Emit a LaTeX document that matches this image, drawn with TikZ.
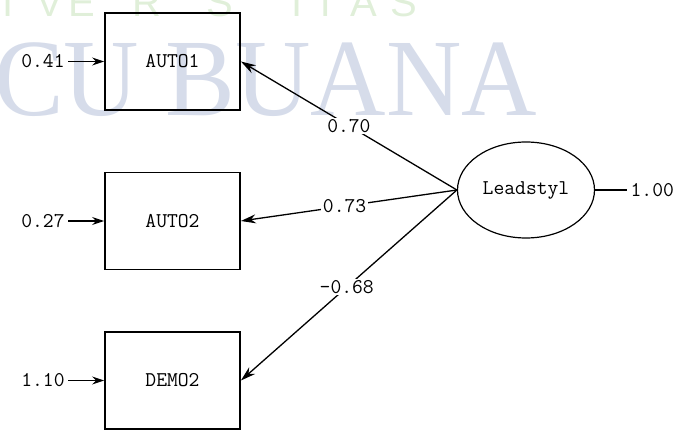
\documentclass[tikz,border=0pt]{standalone}
\usepackage{fontspec}
\newfontfamily\wmserif{Liberation Serif}
\newfontfamily\wmsans{Liberation Sans}
\usetikzlibrary{shapes,positioning,arrows.meta}
\definecolor{wmblue}{RGB}{214,220,234}
\definecolor{wmgreen}{RGB}{224,239,217}
\tikzstyle{obs} = [rectangle,draw,line width=1.8pt,minimum width=135pt,minimum height=97pt]
\tikzstyle{lat} = [ellipse,draw,line width=1.2pt,minimum width=137pt,minimum height=96pt]

\begin{document}
\begin{tikzpicture}
		[
		x=1pt,y=1pt,
		font=\fontsize{21}{25}\selectfont\ttfamily,
		node distance=159.5pt,
		path/.style={-{Stealth[length=15pt,width=9pt]},line width=1.3pt},
		err/.style={-{Stealth[length=12pt,width=8pt]},line width=1.3pt},
		coef/.style={fill=white,inner sep=1.5pt}
		]
		\useasboundingbox (0,0) rectangle (678,-430);
		% watermark
		\node[anchor=base west,inner sep=0pt,text=wmblue,xscale=0.95,font=\fontsize{110}{110}\wmserif] (wmbig) at (-6,-116) {CU BUANA};
		\foreach \l/\x [count=\i] in {I/8,V/50,E/82,R/147,S/220,I/297,T/326,A/364,S/404}
			\node[anchor=base,inner sep=0pt,text=wmgreen,font=\fontsize{40}{40}\wmsans] (wm\i) at (\x,-17) {\l};
		
		\node[obs] at (172.5,-61.5) (auto1) {AUTO1};
		\node[obs,below of=auto1] (auto2) {AUTO2};
		\node[obs,below of=auto2] (demo2) {DEMO2};
		\node[lat,right of=auto2,xshift=194pt,yshift=31pt] (leadstyl) {Leadstyl};
		
		\node[left=36pt of auto1] (e1) {0.41};
		\node[left=36pt of auto2] (e2) {0.27};
		\node[left=36pt of demo2] (e3) {1.10};
		\node[right=32pt of leadstyl] (var) {1.00};
		
		\draw[err] (e1) -- (auto1);
		\draw[err] (e2) -- (auto2);
		\draw[err] (e3) -- (demo2);
		\draw[line width=1.3pt] (leadstyl) -- (var);
		
		\draw[path] (leadstyl.west) -- node[coef,pos=0.5]{0.70} (auto1.east);
		\draw[path] (leadstyl.west) -- node[coef,pos=0.52]{0.73} (auto2.east);
		\draw[path] (leadstyl.west) -- node[coef,pos=0.51]{-0.68} (demo2.east);
		\end{tikzpicture}
\end{document}
